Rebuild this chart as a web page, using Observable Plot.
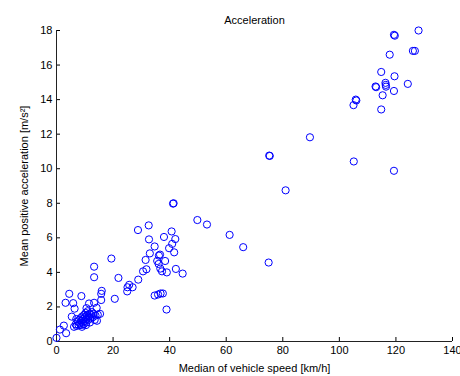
<!DOCTYPE html>
<html><head><meta charset="utf-8">
<script src="https://cdn.jsdelivr.net/npm/d3@7"></script>
<script src="https://cdn.jsdelivr.net/npm/@observablehq/plot@0.6"></script>
<style>body{margin:0;background:#fff}</style>
</head><body><div id="chart"></div>
<script>
const title = "Acceleration";
const xLabel = "Median of vehicle speed [km/h]";
const yLabel = "Mean positive acceleration [m/s²]";
const xTicks = [0, 20, 40, 60, 80, 100, 120, 140];
const yTicks = [0, 2, 4, 6, 8, 10, 12, 14, 16, 18];

const speed = [
  128.0, 119.3, 119.6, 126.0, 126.7, 117.8, 114.8, 119.5, 112.8, 113.0,
  116.3, 116.4, 116.5, 124.2, 119.3, 115.3, 105.8, 106.0, 105.0, 114.8,
  89.6, 75.2, 75.4, 105.1, 119.3, 81.0, 66.0, 75.0, 61.2, 53.2, 49.8,
  41.2, 41.4, 32.6, 28.8, 40.7, 38.0, 32.7, 42.0, 40.9, 34.7,
  39.8, 41.6, 33.0, 36.6, 36.2, 31.5, 35.6, 38.4, 36.1, 36.7,
  37.3, 39.0, 42.2, 44.6, 30.6, 31.8, 28.9, 21.9, 25.7, 25.1,
  26.9, 25.0, 20.6, 34.7, 35.9, 36.8, 37.6, 38.9, 19.4,
  0.0, 1.2, 2.6, 3.4, 3.2, 4.5, 5.9, 6.4, 5.4, 8.8,
  13.3, 13.3, 16.0, 15.8, 15.8, 15.4, 11.5, 13.3, 14.2, 10.6,
  6.2, 6.8, 7.1, 7.5, 7.8, 8.0, 8.3, 8.5, 8.7, 8.9,
  9.1, 9.3, 9.5, 9.6, 9.8, 10.0, 10.1, 10.3, 10.5, 10.6,
  10.8, 11.0, 11.2, 11.4, 11.7, 12.0, 12.2, 12.5, 12.8, 13.1,
  13.5, 13.8, 14.3, 14.6, 10.4, 9.0, 7.0, 11.8
];
const accel = [
  18.0, 17.75, 17.7, 16.82, 16.82, 16.6, 15.6, 15.35, 14.76, 14.72,
  14.97, 14.85, 14.75, 14.91, 14.5, 14.25, 14.0, 13.95, 13.68, 13.43,
  11.82, 10.76, 10.74, 10.42, 9.88, 8.75, 5.46, 4.57, 6.17, 6.77, 7.03,
  7.98, 8.0, 6.72, 6.45, 6.37, 6.05, 5.91, 5.93, 5.65, 5.5,
  5.4, 5.16, 5.1, 5.03, 4.97, 4.72, 4.66, 4.66, 4.49, 4.22,
  4.06, 4.0, 4.2, 3.93, 4.06, 4.18, 3.58, 3.68, 3.28, 3.14,
  3.14, 2.9, 2.47, 2.66, 2.72, 2.78, 2.78, 1.85, 4.8,
  0.21, 0.69, 0.92, 0.48, 2.24, 2.76, 2.22, 1.9, 1.44, 2.63,
  4.33, 3.72, 2.93, 2.76, 2.4, 1.6, 2.2, 2.24, 1.95, 1.93,
  0.85, 1.0, 0.9, 1.15, 0.95, 1.25, 1.05, 1.35, 0.95, 1.2,
  1.45, 1.1, 1.3, 1.0, 1.55, 1.2, 1.4, 1.65, 1.1, 1.3,
  1.5, 1.75, 1.25, 1.45, 1.6, 1.35, 1.55, 1.7, 1.4, 1.6,
  1.25, 1.5, 1.2, 1.55, 0.95, 0.85, 1.3, 1.1
];

const data = speed.map((s, i) => ({speed: s, accel: accel[i]}));

const chart = Plot.plot({
  width: 460,
  height: 376,
  marginLeft: 56,
  marginRight: 8,
  marginTop: 30,
  marginBottom: 35,
  style: {fontFamily: "'Liberation Sans', Arial, sans-serif", fontSize: "11px", color: "#000", background: "#fff"},
  x: {domain: [0, 140]},
  y: {domain: [0, 18]},
  marks: [
    Plot.axisX({ticks: xTicks, tickSize: -4, tickPadding: 9, stroke: "#000", label: xLabel, labelAnchor: "center", labelOffset: 30, labelArrow: "none"}),
    Plot.axisY({ticks: yTicks, tickSize: -4, tickPadding: 8, stroke: "#000", label: yLabel, labelAnchor: "center", labelOffset: 36, labelArrow: "none"}),
    Plot.ruleX([0], {stroke: "#222"}),
    Plot.ruleY([0], {stroke: "#222"}),
    Plot.dot(data, {x: "speed", y: "accel", r: 3.6, stroke: "#0000ff", strokeWidth: 1}),
    Plot.text([title], {text: d => d, frameAnchor: "top", dy: -14, fontSize: 11})
  ]
});
document.getElementById("chart").appendChild(chart);
</script>
</body></html>
